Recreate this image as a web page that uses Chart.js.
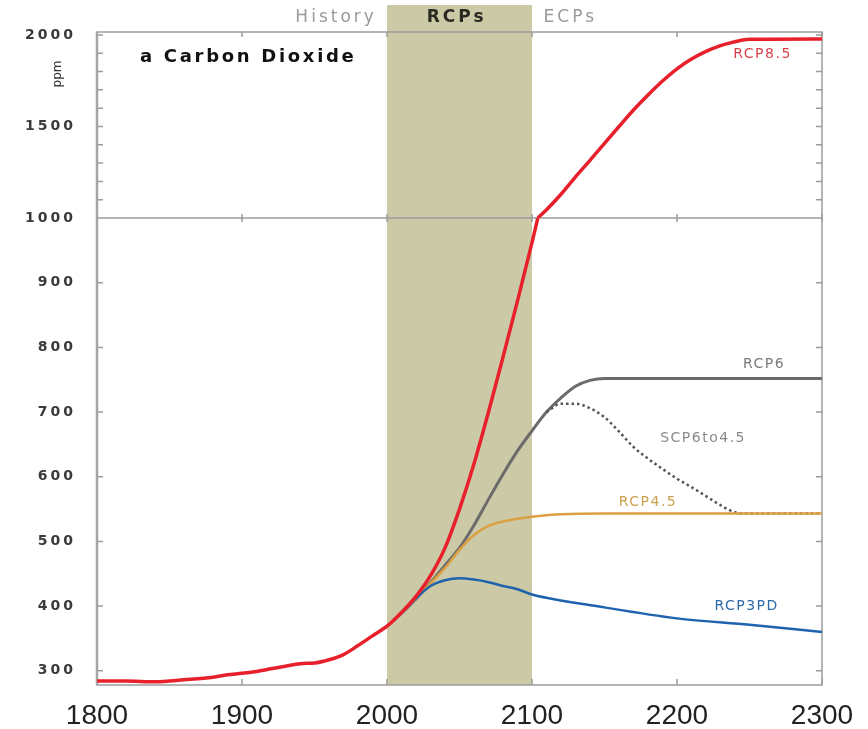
<!DOCTYPE html>
<html>
<head>
    <title>Carbon Dioxide</title>
    <script src="https://cdn.jsdelivr.net/npm/chart.js"></script>
    <style>body { margin: 0; background: #fff; }</style>
</head>
<body>
    <canvas id="chart" width="868" height="729"></canvas>
    <script>
        // historical record, then the scenarios (ppm)
        const histYears = [1800, 1820, 1840, 1860, 1880, 1890, 1900, 1910, 1920, 1930, 1940, 1950, 1960, 1970, 1980, 1990, 2000, 2005];
        const histCO2 = [284, 284, 283, 286, 290, 294, 296, 299, 303, 307, 311, 312, 317, 325, 339, 354, 369, 379];

        // RCP8.5 below the axis break (lower scale) and above it (upper scale)
        const rcp85Years = [2010, 2020, 2030, 2040, 2050, 2060, 2070, 2080, 2090, 2100, 2104];
        const rcp85CO2 = [390, 415, 447, 490, 550, 620, 700, 785, 872, 962, 1000];
        const rcp85HighYears = [2104, 2110, 2120, 2130, 2140, 2150, 2160, 2170, 2180, 2190, 2200, 2210, 2220, 2230, 2240, 2250, 2300];
        const rcp85HighCO2 = [1000, 1045, 1130, 1225, 1315, 1408, 1500, 1590, 1672, 1748, 1815, 1868, 1910, 1942, 1963, 1976, 1978];

        const rcp6Years = [2005, 2010, 2020, 2030, 2040, 2050, 2060, 2070, 2080, 2090, 2100, 2110, 2120, 2130, 2140, 2150, 2200, 2250, 2300];
        const rcp6CO2 = [379, 389, 411, 436, 463, 490, 525, 565, 604, 640, 671, 700, 722, 740, 749, 752, 752, 752, 752];

        const scpYears = [2110, 2120, 2130, 2140, 2150, 2160, 2170, 2180, 2190, 2200, 2210, 2220, 2230, 2240, 2250, 2300];
        const scpCO2 = [700, 713, 713, 706, 692, 670, 646, 628, 612, 597, 584, 570, 556, 545, 543, 543];

        const rcp45Years = [2005, 2010, 2020, 2030, 2040, 2050, 2060, 2070, 2080, 2090, 2100, 2120, 2150, 2300];
        const rcp45CO2 = [379, 389, 412, 435, 459, 487, 510, 524, 531, 535, 538, 542, 543, 543];

        const rcp3pdYears = [2005, 2010, 2020, 2030, 2040, 2050, 2060, 2070, 2080, 2090, 2100, 2150, 2200, 2250, 2300];
        const rcp3pdCO2 = [379, 389, 412, 431, 440, 443, 441, 437, 431, 426, 418, 398, 381, 371, 360];

        const xTicks = [1800, 1900, 2000, 2100, 2200, 2300];
        const yTicksLow = [300, 400, 500, 600, 700, 800, 900, 1000];
        const yTicksHigh = [1500, 2000];
        const bandYears = [2000, 2100];

        const pts = (xs, ys) => xs.map((x, i) => ({ x: x, y: ys[i] }));

        // series names written next to the curves: [text, colour, year, ppm, axis]
        const seriesLabels = [
            ['RCP8.5', '#d8434c', 2259, 1896, 'y2'],
            ['RCP6', '#7a7a7a', 2260, 773, 'y'],
            ['SCP6to4.5', '#8a8a8a', 2218, 660, 'y'],
            ['RCP4.5', '#c9a04e', 2180, 560, 'y'],
            ['RCP3PD', '#2f6aa8', 2248, 399, 'y']
        ];

        const decor = {
            id: 'decor',
            beforeDraw(chart) {
                const { ctx, chartArea: a, scales: { x } } = chart;
                const x0 = x.getPixelForValue(bandYears[0]);
                const x1 = x.getPixelForValue(bandYears[1]);
                ctx.save();
                ctx.fillStyle = '#cccaa6';
                ctx.fillRect(x0, 5, x1 - x0, a.bottom - 5);
                ctx.restore();
                // wide look for the y tick labels (x labels are drawn later)
                ctx.letterSpacing = '3px';
            },
            beforeDatasetsDraw(chart) {
                const { ctx, chartArea: a, scales: { x, y, y2 } } = chart;
                ctx.letterSpacing = '0px';
                ctx.save();
                ctx.strokeStyle = '#9c9c9c';
                ctx.lineWidth = 1.5;
                ctx.strokeRect(a.left, a.top, a.width, a.height);
                const mid = y2.getPixelForValue(1000);
                ctx.beginPath();
                ctx.moveTo(a.left, mid);
                ctx.lineTo(a.right, mid);
                for (let v = 300; v < 1000; v += 100) {
                    const p = y.getPixelForValue(v);
                    ctx.moveTo(a.left, p); ctx.lineTo(a.left + 6, p);
                    ctx.moveTo(a.right, p); ctx.lineTo(a.right - 6, p);
                }
                for (let v = 1100; v <= 2000; v += 100) {
                    const p = y2.getPixelForValue(v);
                    ctx.moveTo(a.left, p); ctx.lineTo(a.left + 6, p);
                    ctx.moveTo(a.right, p); ctx.lineTo(a.right - 6, p);
                }
                x.ticks.forEach(t => {
                    const p = x.getPixelForValue(t.value);
                    ctx.moveTo(p, a.top); ctx.lineTo(p, a.top + 5);
                    ctx.moveTo(p, a.bottom); ctx.lineTo(p, a.bottom - 6);
                    ctx.moveTo(p, mid - 4); ctx.lineTo(p, mid + 4);
                });
                ctx.stroke();
                ctx.strokeStyle = '#a6a6a6';
                ctx.lineWidth = 2.5;
                ctx.beginPath();
                ctx.moveTo(a.left, a.top);
                ctx.lineTo(a.left, a.bottom);
                ctx.stroke();
                ctx.restore();
            },
            afterDraw(chart) {
                const { ctx, scales } = chart;
                const x = scales.x;
                ctx.save();
                ctx.textBaseline = 'middle';
                ctx.letterSpacing = '3px';

                ctx.font = '17px "DejaVu Sans"';
                ctx.fillStyle = '#9a9a9a';
                ctx.textAlign = 'right';
                ctx.fillText('History', x.getPixelForValue(1993), 18);
                ctx.textAlign = 'left';
                ctx.fillText('ECPs', x.getPixelForValue(2108), 18);
                ctx.font = 'bold 17px "DejaVu Sans"';
                ctx.fillStyle = '#2a2a22';
                ctx.textAlign = 'center';
                ctx.fillText('RCPs', x.getPixelForValue(2048), 18);

                ctx.textAlign = 'left';
                ctx.fillStyle = '#111';
                ctx.letterSpacing = '2.7px';
                ctx.font = 'bold 18px "DejaVu Sans"';
                ctx.fillText('a', 140, 57);
                const w = ctx.measureText('a ').width;
                ctx.fillText('Carbon Dioxide', 140 + w, 57);

                ctx.save();
                ctx.translate(58, 74);
                ctx.rotate(-Math.PI / 2);
                ctx.textAlign = 'center';
                ctx.letterSpacing = '0px';
                ctx.font = '12px "DejaVu Sans"';
                ctx.fillStyle = '#333';
                ctx.fillText('ppm', 0, 0);
                ctx.restore();

                ctx.font = '14px "DejaVu Sans"';
                ctx.letterSpacing = '1.5px';
                ctx.textAlign = 'center';
                seriesLabels.forEach(([text, color, year, ppm, axis]) => {
                    ctx.fillStyle = color;
                    ctx.fillText(text, x.getPixelForValue(year), scales[axis].getPixelForValue(ppm));
                });
                ctx.restore();
            }
        };

        const line = (data, axis, color, width, dash) => ({
            data: data,
            yAxisID: axis,
            borderColor: color,
            borderWidth: width,
            borderDash: dash || [],
            pointRadius: 0,
            fill: false,
            cubicInterpolationMode: 'monotone'
        });

        const yTickFont = { family: 'DejaVu Sans', size: 14, weight: 'bold' };

        new Chart(document.getElementById('chart'), {
            type: 'line',
            data: {
                datasets: [
                    line(pts(histYears, histCO2).concat(pts(rcp85Years, rcp85CO2)), 'y', '#e8202b', 3.5),
                    line(pts(rcp85HighYears, rcp85HighCO2), 'y2', '#e8202b', 3.5),
                    line(pts(rcp3pdYears, rcp3pdCO2), 'y', '#1f62ad', 2.5),
                    line(pts(rcp45Years, rcp45CO2), 'y', '#dba042', 2.5),
                    line(pts(scpYears, scpCO2), 'y', '#555555', 2.5, [2.5, 3]),
                    line(pts(rcp6Years, rcp6CO2), 'y', '#6b6b6b', 3)
                ]
            },
            options: {
                responsive: false,
                animation: false,
                layout: { padding: { top: 32, right: 46, left: 0, bottom: 0 } },
                plugins: {
                    legend: { display: false },
                    tooltip: { enabled: false }
                },
                scales: {
                    x: {
                        type: 'linear',
                        min: 1800,
                        max: 2300,
                        grid: { display: false, drawTicks: false },
                        border: { display: false },
                        afterBuildTicks: s => { s.ticks = xTicks.map(v => ({ value: v })); },
                        afterFit: s => { s.height = 44; },
                        ticks: {
                            z: 1,
                            padding: 14,
                            color: '#222',
                            font: { family: 'Liberation Sans', size: 28 },
                            callback: v => String(v)
                        }
                    },
                    y: {
                        type: 'linear',
                        position: 'left',
                        stack: 'co2',
                        stackWeight: 2.51,
                        min: 278,
                        max: 1000,
                        grid: { display: false, drawTicks: false },
                        border: { display: false },
                        afterBuildTicks: s => { s.ticks = yTicksLow.map(v => ({ value: v })); },
                        afterFit: s => { s.width = 97; },
                        ticks: { padding: 21, color: '#3a3a3a', font: yTickFont, callback: v => String(v) }
                    },
                    y2: {
                        type: 'linear',
                        position: 'left',
                        stack: 'co2',
                        stackWeight: 1,
                        min: 1000,
                        max: 2016,
                        grid: { display: false, drawTicks: false },
                        border: { display: false },
                        afterBuildTicks: s => { s.ticks = yTicksHigh.map(v => ({ value: v })); },
                        afterFit: s => { s.width = 97; },
                        ticks: { padding: 21, color: '#3a3a3a', font: yTickFont, callback: v => String(v) }
                    }
                }
            },
            plugins: [decor]
        });
    </script>
</body>
</html>
